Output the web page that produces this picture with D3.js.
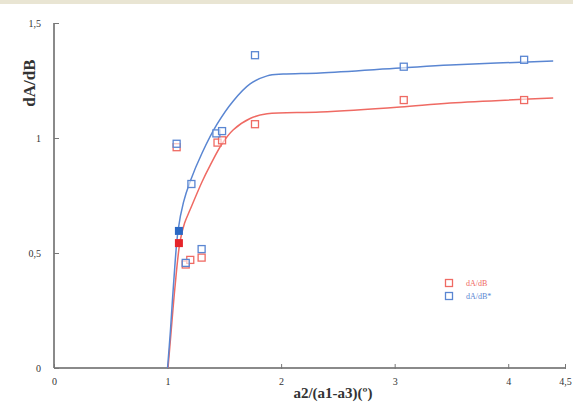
<!DOCTYPE html>
<html>
<head>
<meta charset="utf-8">
<script src="https://cdn.jsdelivr.net/npm/d3@7"></script>
<style>
  body { margin: 0; background: #fff; }
  svg { display: block; }
</style>
</head>
<body>
<svg id="chart" width="573" height="403"></svg>
<script>
// measured points, dA/dB (red) and dA/dB* (blue)
var redX  = [1.08, 1.16, 1.20, 1.30, 1.44, 1.48, 1.77, 3.08, 4.14];
var redY  = [0.96, 0.45, 0.47, 0.48, 0.98, 0.99, 1.06, 1.165, 1.165];
var blueX = [1.08, 1.16, 1.21, 1.30, 1.43, 1.48, 1.77, 3.08, 4.14];
var blueY = [0.975, 0.457, 0.80, 0.517, 1.02, 1.03, 1.36, 1.31, 1.34];

// filled points
var filledX = [1.1, 1.1];
var filledY = [0.543, 0.596];

// fitted curves
var redCurveX  = [1.004, 1.03, 1.065, 1.11, 1.15, 1.2, 1.304, 1.374, 1.48, 1.577, 1.727, 1.877, 2.344, 3.048, 3.489, 4.396];
var redCurveY  = [0, 0.15, 0.35, 0.55, 0.63, 0.69, 0.81, 0.88, 0.975, 1.035, 1.085, 1.105, 1.113, 1.135, 1.152, 1.174];
var blueCurveX = [1.0, 1.025, 1.055, 1.093, 1.14, 1.198, 1.304, 1.436, 1.577, 1.727, 1.877, 2.018, 2.344, 3.048, 3.489, 4.396];
var blueCurveY = [0, 0.16, 0.38, 0.6, 0.72, 0.81, 0.935, 1.06, 1.16, 1.235, 1.27, 1.278, 1.283, 1.304, 1.317, 1.335];

var xTicks = [0, 1, 2, 3, 4, 4.5];
var xTickLabels = ["0", "1", "2", "3", "4", "4,5"];
var yTicks = [0, 0.5, 1, 1.5];
var yTickLabels = ["0", "0,5", "1", "1,5"];

var legendNames = ["dA/dB", "dA/dB*"];

var red = "#ef6a63", blue = "#5a86d2";

var svg = d3.select("#chart");

// thin beige strip along the top
svg.append("rect").attr("x", 0).attr("y", 0).attr("width", 573).attr("height", 4)
    .attr("fill", "#e9e5d3");

var x = d3.scaleLinear().domain([0, 4.5]).range([54, 565]);
var y = d3.scaleLinear().domain([0, 1.5]).range([368, 23]);

function zip(xs, ys) {
    return xs.map(function(v, i) { return [v, ys[i]]; });
}

// axes
var axisColor = "#8a8a8a";
svg.append("line").attr("x1", x(0)).attr("x2", x(4.5)).attr("y1", y(0)).attr("y2", y(0))
    .attr("stroke", axisColor).attr("stroke-width", 2);
svg.append("line").attr("x1", x(0)).attr("x2", x(0)).attr("y1", y(0)).attr("y2", y(1.5))
    .attr("stroke", axisColor).attr("stroke-width", 2);

var xAxis = svg.append("g").attr("transform", "translate(0," + y(0) + ")")
    .call(d3.axisBottom(x).tickValues(xTicks).tickSize(0)
        .tickFormat(function(d, i) { return xTickLabels[i]; }));
xAxis.select(".domain").remove();
xAxis.selectAll("text").attr("dy", "1.35em")
    .style("font-family", "Liberation Serif").style("font-size", "10px").attr("fill", "#333");
xAxis.selectAll(".tick").append("line").attr("y1", -4).attr("y2", 1)
    .attr("stroke", "#777").attr("stroke-width", 1);

var yAxis = svg.append("g").attr("transform", "translate(" + x(0) + ",0)")
    .call(d3.axisLeft(y).tickValues(yTicks).tickSize(0)
        .tickFormat(function(d, i) { return yTickLabels[i]; }));
yAxis.select(".domain").remove();
yAxis.selectAll("text").attr("x", -13)
    .style("font-family", "Liberation Serif").style("font-size", "10px").attr("fill", "#333");
yAxis.selectAll(".tick").append("line").attr("x1", 0).attr("x2", 5)
    .attr("stroke", "#777").attr("stroke-width", 1);

// axis titles
svg.append("text").attr("x", 333).attr("y", 398).attr("text-anchor", "middle")
    .style("font-family", "Liberation Serif").style("font-size", "15px").style("font-weight", "bold")
    .attr("fill", "#333").text("a2/(a1-a3)(º)");
svg.append("text").attr("transform", "translate(35,83) rotate(-90)").attr("text-anchor", "middle")
    .style("font-family", "Liberation Serif").style("font-size", "17px").style("font-weight", "bold")
    .attr("fill", "#333").text("dA/dB");

// curves
var line = d3.line()
    .x(function(d) { return x(d[0]); })
    .y(function(d) { return y(d[1]); })
    .curve(d3.curveCatmullRom.alpha(0.5));

svg.append("path").datum(zip(redCurveX, redCurveY)).attr("d", line)
    .attr("fill", "none").attr("stroke", red).attr("stroke-width", 1.5);
svg.append("path").datum(zip(blueCurveX, blueCurveY)).attr("d", line)
    .attr("fill", "none").attr("stroke", blue).attr("stroke-width", 1.5);

// hollow squares
var sq = 7;
function squares(data, color) {
    svg.append("g").selectAll("rect").data(data).enter().append("rect")
        .attr("x", function(d) { return x(d[0]) - sq / 2; })
        .attr("y", function(d) { return y(d[1]) - sq / 2; })
        .attr("width", sq).attr("height", sq)
        .attr("fill", "#fff").attr("fill-opacity", 0.6)
        .attr("stroke", color).attr("stroke-width", 1.3);
}
squares(zip(redX, redY), red);
squares(zip(blueX, blueY), blue);

// the two filled points
svg.append("g").selectAll("rect").data(zip(filledX, filledY)).enter().append("rect")
    .attr("x", function(d) { return x(d[0]) - 4; })
    .attr("y", function(d) { return y(d[1]) - 4; })
    .attr("width", 8).attr("height", 8)
    .attr("fill", function(d, i) { return i == 0 ? "#e5242a" : "#2a68c4"; });

// legend
var legend = svg.append("g").attr("transform", "translate(449,283)");
legendNames.forEach(function(name, i) {
    var c = i == 0 ? red : blue;
    legend.append("rect").attr("x", -3.5).attr("y", i * 13 - 3.5).attr("width", 7).attr("height", 7)
        .attr("fill", "none").attr("stroke", c).attr("stroke-width", 1.3);
    legend.append("text").attr("x", 17).attr("y", i * 13 + 3)
        .style("font-family", "Liberation Serif").style("font-size", "8px")
        .attr("fill", c).text(name);
});
</script>
</body>
</html>
